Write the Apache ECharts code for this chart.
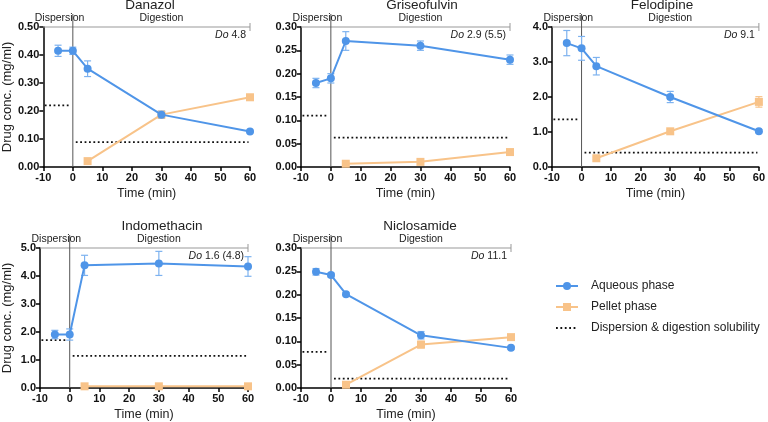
<!DOCTYPE html>
<html>
<head>
<meta charset="utf-8">
<script src="https://cdn.jsdelivr.net/npm/echarts@6/dist/echarts.min.js"></script>
<style>html,body{margin:0;padding:0;background:#fff}#c{width:768px;height:422px}</style>
</head>
<body>
<div id="c"></div>
<script>
// ---- data ----
const aqTimes = [-5, 0, 5, 30, 60];
const pelletTimes = [5, 30, 60];
const titles = ['Danazol', 'Griseofulvin', 'Felodipine', 'Indomethacin', 'Niclosamide'];
const doLabels = ['4.8', '2.9 (5.5)', '9.1', '1.6 (4.8)', '11.1'];
const xTicks = [-10, 0, 10, 20, 30, 40, 50, 60];
const yMaxes = [0.5, 0.3, 4.0, 5.0, 0.3];
const yIntervals = [0.1, 0.05, 1.0, 1.0, 0.05];
const yDecimals = [2, 2, 1, 1, 2];

const danazolAq = [0.415, 0.415, 0.351, 0.187, 0.127];
const danazolAqErr = [0.02, 0.013, 0.028, 0.013, 0.004];
const danazolPellet = [0.021, 0.187, 0.249];
const danazolPelletErr = [0.003, 0.01, 0.01];
const danazolSol = [0.22, 0.089];

const griseoAq = [0.18, 0.19, 0.27, 0.26, 0.23];
const griseoAqErr = [0.01, 0.01, 0.02, 0.01, 0.01];
const griseoPellet = [0.007, 0.011, 0.032];
const griseoPelletErr = [0.002, 0.002, 0.003];
const griseoSol = [0.11, 0.063];

const felodAq = [3.54, 3.39, 2.88, 2.0, 1.02];
const felodAqErr = [0.36, 0.34, 0.25, 0.16, 0.04];
const felodPellet = [0.25, 1.02, 1.86];
const felodPelletErr = [0.03, 0.05, 0.15];
const felodSol = [1.36, 0.41];

const indoAq = [1.91, 1.91, 4.38, 4.45, 4.34];
const indoAqErr = [0.15, 0.2, 0.36, 0.43, 0.35];
const indoPellet = [0.06, 0.06, 0.06];
const indoPelletErr = [0.02, 0.02, 0.02];
const indoSol = [1.71, 1.15];

const niclosAq = [0.249, 0.242, 0.201, 0.113, 0.086];
const niclosAqErr = [0.007, 0.004, 0.003, 0.008, 0.003];
const niclosPellet = [0.007, 0.093, 0.109];
const niclosPelletErr = [0.002, 0.007, 0.004];
const niclosSol = [0.0775, 0.02];

const aqSets = [danazolAq, griseoAq, felodAq, indoAq, niclosAq];
const aqErrSets = [danazolAqErr, griseoAqErr, felodAqErr, indoAqErr, niclosAqErr];
const pelSets = [danazolPellet, griseoPellet, felodPellet, indoPellet, niclosPellet];
const pelErrSets = [danazolPelletErr, griseoPelletErr, felodPelletErr, indoPelletErr, niclosPelletErr];
const solSets = [danazolSol, griseoSol, felodSol, indoSol, niclosSol];

// ---- styling / layout ----
const BLUE = '#4f95e8';
const BLUE_ERR = '#7db2ef';
const ORANGE = '#f8c389';
const FONT = 'Liberation Sans, Arial, sans-serif';
const grids = [
  {left: 40, top: 27, width: 210, height: 140},
  {left: 301, top: 27, width: 209, height: 140},
  {left: 552, top: 27, width: 210, height: 140},
  {left: 39, top: 248, width: 209, height: 140},
  {left: 301, top: 248, width: 210, height: 140}
];
const titlePos = [[150, -2], [422, -2], [662, -2], [162, 219], [420, 219]];

const chart = echarts.init(document.getElementById('c'), null, {renderer: 'canvas'});

const xAxes = [], yAxes = [], series = [], titleArr = [];
for (let i = 0; i < 5; i++) {
  titleArr.push({
    text: titles[i], left: titlePos[i][0], top: titlePos[i][1], textAlign: 'center', padding: 0,
    textStyle: {fontFamily: FONT, fontSize: 13.5, fontWeight: 'normal', color: '#222'}
  });
  xAxes.push({
    gridIndex: i, type: 'value', min: xTicks[0], max: xTicks[xTicks.length - 1], interval: 10,
    name: 'Time (min)', nameLocation: 'middle', nameGap: 20,
    nameTextStyle: {fontFamily: FONT, fontSize: 12.5, color: '#222'},
    axisLine: {show: true, onZero: false, lineStyle: {color: '#000', width: 1.5}},
    axisTick: {show: true, length: 4, lineStyle: {color: '#000', width: 1.5}},
    axisLabel: {fontFamily: FONT, fontSize: 11, fontWeight: 'bold', color: '#111', margin: 5},
    splitLine: {show: false}
  });
  yAxes.push({
    gridIndex: i, type: 'value', min: 0, max: yMaxes[i], interval: yIntervals[i],
    name: (i === 0 || i === 3) ? 'Drug conc. (mg/ml)' : '',
    nameLocation: 'middle', nameGap: 26,
    nameTextStyle: {fontFamily: FONT, fontSize: 13, color: '#222'},
    axisLine: {show: true, onZero: false, lineStyle: {color: '#000', width: 1.5}},
    axisTick: {show: true, length: 4, lineStyle: {color: '#000', width: 1.5}},
    axisLabel: {fontFamily: FONT, fontSize: 11, fontWeight: 'bold', color: '#111', margin: 4,
      formatter: (v => val => val.toFixed(v))(yDecimals[i])},
    splitLine: {show: false}
  });

  // annotation: bracket, x=0 divider, phase labels, Do label
  const yMax = yMaxes[i], doTxt = doLabels[i];
  series.push({
    type: 'custom', xAxisIndex: i, yAxisIndex: i, clip: false, silent: true, z: 1,
    data: [[0, yMax]],
    renderItem: function (params, api) {
      const pL = api.coord([-10, yMax]);
      const pR = api.coord([60, yMax]);
      const p0 = api.coord([0, 0]);
      const p0t = api.coord([0, yMax]);
      const pDisp = api.coord([-4.5, yMax]);
      const pDig = api.coord([30, yMax]);
      return {
        type: 'group',
        children: [
          {type: 'line', shape: {x1: pL[0], y1: pL[1], x2: pR[0], y2: pR[1]},
            style: {stroke: '#999', lineWidth: 1}},
          {type: 'line', shape: {x1: pR[0], y1: pR[1] - 4, x2: pR[0], y2: pR[1] + 4},
            style: {stroke: '#999', lineWidth: 1}},
          {type: 'line', shape: {x1: p0[0], y1: p0[1], x2: p0t[0], y2: p0t[1] - 13},
            style: {stroke: '#555', lineWidth: 1}},
          {type: 'text', x: pDisp[0], y: pDisp[1] - 3,
            style: {text: 'Dispersion', fontFamily: FONT, fontSize: 10.5, fill: '#222',
              align: 'center', verticalAlign: 'bottom'}},
          {type: 'text', x: pDig[0], y: pDig[1] - 3,
            style: {text: 'Digestion', fontFamily: FONT, fontSize: 10.5, fill: '#222',
              align: 'center', verticalAlign: 'bottom'}},
          {type: 'text', x: pR[0] - 4, y: pR[1] + 3,
            style: {text: '{i|Do} ' + doTxt, fontFamily: FONT, fontSize: 10.5, fill: '#222',
              align: 'right', verticalAlign: 'top',
              rich: {i: {fontStyle: 'italic', fontFamily: FONT, fontSize: 10.5, fill: '#222'}}}}
        ]
      };
    }
  });

  // solubility dotted lines
  const sol = solSets[i];
  series.push({
    name: 'Dispersion & digestion solubility', type: 'line', xAxisIndex: i, yAxisIndex: i,
    symbol: 'none', silent: true, z: 2,
    lineStyle: {color: '#111', width: 1.8, type: [1.8, 2.6]},
    itemStyle: {color: '#111'},
    data: [[-9.5, sol[0]], [-0.7, sol[0]]]
  });
  series.push({
    name: 'Dispersion & digestion solubility', type: 'line', xAxisIndex: i, yAxisIndex: i,
    symbol: 'none', silent: true, z: 2,
    lineStyle: {color: '#111', width: 1.8, type: [1.8, 2.6]},
    itemStyle: {color: '#111'},
    data: [[1, sol[1]], [59.5, sol[1]]]
  });

  // error bars
  const errData = [];
  aqTimes.forEach((t, k) => errData.push([t, aqSets[i][k] - aqErrSets[i][k], aqSets[i][k] + aqErrSets[i][k], 0]));
  pelletTimes.forEach((t, k) => errData.push([t, pelSets[i][k] - pelErrSets[i][k], pelSets[i][k] + pelErrSets[i][k], 1]));
  series.push({
    type: 'custom', xAxisIndex: i, yAxisIndex: i, silent: true, z: 3, clip: false,
    encode: {x: 0, y: [1, 2]},
    data: errData,
    renderItem: function (params, api) {
      const x = api.value(0);
      const lo = api.coord([x, api.value(1)]);
      const hi = api.coord([x, api.value(2)]);
      const col = api.value(3) === 0 ? BLUE_ERR : ORANGE;
      const w = 3.5;
      return {
        type: 'group',
        children: [
          {type: 'line', shape: {x1: lo[0], y1: lo[1], x2: hi[0], y2: hi[1]}, style: {stroke: col, lineWidth: 1.2}},
          {type: 'line', shape: {x1: lo[0] - w, y1: lo[1], x2: lo[0] + w, y2: lo[1]}, style: {stroke: col, lineWidth: 1.2}},
          {type: 'line', shape: {x1: hi[0] - w, y1: hi[1], x2: hi[0] + w, y2: hi[1]}, style: {stroke: col, lineWidth: 1.2}}
        ]
      };
    }
  });

  // pellet phase
  series.push({
    name: 'Pellet phase', type: 'line', xAxisIndex: i, yAxisIndex: i, z: 4,
    symbol: 'rect', symbolSize: 8,
    lineStyle: {color: ORANGE, width: 2}, itemStyle: {color: ORANGE},
    data: pelletTimes.map((t, k) => [t, pelSets[i][k]])
  });
  // aqueous phase
  series.push({
    name: 'Aqueous phase', type: 'line', xAxisIndex: i, yAxisIndex: i, z: 5,
    symbol: 'circle', symbolSize: 8,
    lineStyle: {color: BLUE, width: 2}, itemStyle: {color: BLUE},
    data: aqTimes.map((t, k) => [t, aqSets[i][k]])
  });
}

chart.setOption({
  animation: false,
  backgroundColor: '#fff',
  title: titleArr,
  grid: grids,
  xAxis: xAxes,
  yAxis: yAxes,
  legend: {
    orient: 'vertical', left: 550, top: 275, itemWidth: 22, itemHeight: 10, itemGap: 9,
    textStyle: {fontFamily: FONT, fontSize: 12, color: '#222', padding: [0, 0, 0, 8]},
    data: [
      {name: 'Aqueous phase'},
      {name: 'Pellet phase'},
      {name: 'Dispersion & digestion solubility', itemStyle: {opacity: 0}}
    ],
    selectedMode: false
  },
  series: series
});
</script>
</body>
</html>
